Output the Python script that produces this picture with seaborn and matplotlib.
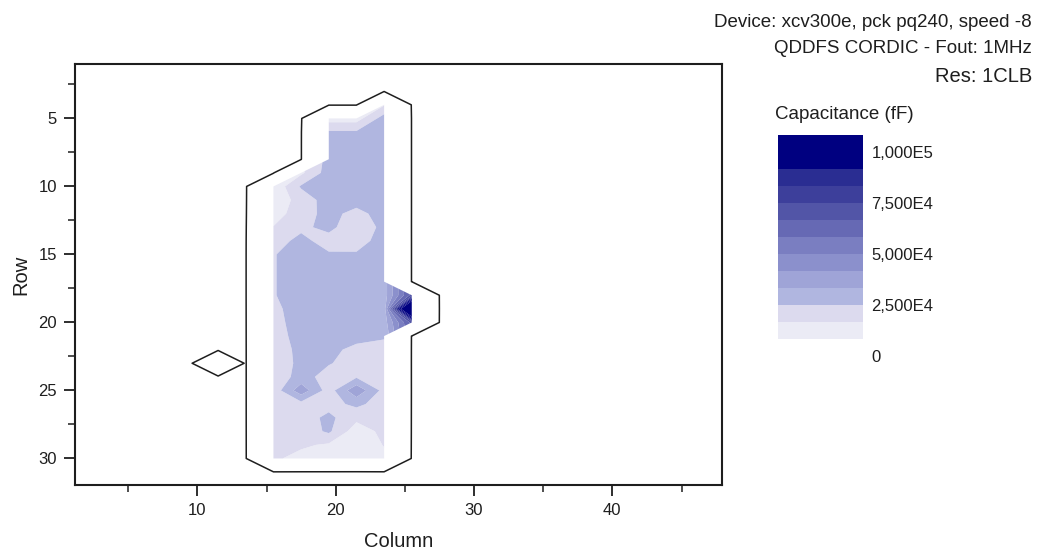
import numpy as np
import matplotlib
matplotlib.use("Agg")
import matplotlib.pyplot as plt
from matplotlib.colors import ListedColormap, BoundaryNorm
from matplotlib.cm import ScalarMappable
from matplotlib.ticker import MultipleLocator
import seaborn as sns

# ---- measured capacitance per CLB column (fF) ----
# each column: x position, first populated row, then values row by row
grid_columns = np.arange(1.5, 48, 2)          # CLB column centres
grid_rows = np.arange(1, 33)                  # CLB rows

col_positions = [11.5, 15.5, 17.5, 19.5, 21.5, 23.5, 25.5]
col_first_row = [23, 10, 9, 5, 5, 4, 18]

cap_c11 = [5000]
cap_c15 = [10000, 11000, 13000, 17000, 22000, 24500, 24500, 24500, 24500, 23000,
           22000, 21000, 20000, 20000, 20000, 20000, 20000, 19500, 19000, 18500, 18000]
cap_c17 = [15000, 26000, 20000, 21000, 23500, 27000, 29000, 29000, 29000, 29000, 29000,
           29000, 28500, 27500, 27000, 28000, 38500, 22000, 21000, 20000, 18000, 14000]
cap_c19 = [13000, 26000, 29000, 28000, 29000, 29000, 29000, 28000, 27000, 22000, 25800,
           29000, 29000, 29000, 29000, 29000, 28000, 26500, 25500, 22000, 21000, 22000,
           27000, 26500, 15500, 13000]
cap_c21 = [13000, 26000, 29000, 29000, 29000, 29000, 29000, 22000, 20000, 21000, 26000,
           29000, 29000, 29000, 29000, 29000, 27000, 23500, 22000, 24000, 39500, 27000,
           19000, 12000, 12000, 12000]
cap_c23 = [16000, 29000, 29000, 29000, 29000, 29000, 29000, 29000, 29000, 27000, 29000,
           29000, 29000, 29000, 29000, 28000, 29000, 26000, 22000, 21000, 21000, 22000,
           21000, 20000, 19000, 17000, 15000]
cap_c25 = [70000, 160000, 70000]

# colour scale
level_step = 1e5 / 12
band_colors = ["#ffffff", "#ebebf5", "#dcdaee", "#b0b6e0", "#9fa4d7", "#8b90cc",
               "#7a7ec1", "#6669b4", "#5255a7", "#3d3f9b", "#2a2d92", "#000080", "#000080"]
cbar_ticks = [0, 25000, 50000, 75000, 100000]
cbar_ticklabels = ["0", "2,500E4", "5,000E4", "7,500E4", "1,000E5"]

header_lines = ["Device: xcv300e, pck pq240, speed -8", "QDDFS CORDIC - Fout: 1MHz"]
resolution_text = "Res: 1CLB"

# ---- assemble the grid ----
column_values = [cap_c11, cap_c15, cap_c17, cap_c19, cap_c21, cap_c23, cap_c25]
Z = np.zeros((len(grid_rows), len(grid_columns)))
for xpos, r0, vals in zip(col_positions, col_first_row, column_values):
    ci = int(np.argmin(np.abs(grid_columns - xpos)))
    for k, v in enumerate(vals):
        Z[r0 - 1 + k, ci] = v
X, Y = np.meshgrid(grid_columns, grid_rows)
Z_fill = np.ma.masked_where(Z <= 0, Z)

# ---- style ----
sns.set_style("ticks")
plt.rcParams["font.family"] = ["Liberation Sans", "DejaVu Sans"]
ink = "#1e1e1e"

fig = plt.figure(figsize=(10.41, 5.5), dpi=100)
ax = fig.add_axes([0.072, 0.1182, 0.6216, 0.7654])

bounds = np.arange(len(band_colors) + 1) * level_step
cmap = ListedColormap(band_colors)
cmap.set_over("#000080")
norm = BoundaryNorm(bounds, cmap.N)

ax.contourf(X, Y, Z_fill, levels=bounds, cmap=cmap, norm=norm, extend="max",
            antialiased=True)
ax.contour(X, Y, Z, levels=[300], colors=ink, linewidths=1.1)

ax.set_xlim(1.15, 47.93)
ax.set_ylim(31.95, 1.0)
ax.xaxis.set_major_locator(MultipleLocator(10))
ax.xaxis.set_minor_locator(MultipleLocator(5))
ax.yaxis.set_major_locator(MultipleLocator(5))
ax.yaxis.set_minor_locator(MultipleLocator(2.5))
ax.tick_params(which="major", direction="out", length=8, width=1.3, color=ink,
               labelsize=12, labelcolor=ink, pad=5)
ax.tick_params(which="minor", direction="out", length=5, width=1.1, color=ink)
for s in ax.spines.values():
    s.set_linewidth(1.5)
    s.set_color(ink)
    s.set_visible(True)
ax.set_xlabel("Column", fontsize=14.5, color=ink, labelpad=10)
ax.set_ylabel("Row", fontsize=14.5, color=ink, labelpad=6)

# ---- colour bar ----
cax = fig.add_axes([0.7474, 0.3527, 0.0817, 0.4018])
sm = ScalarMappable(norm=norm, cmap=cmap)
cb = fig.colorbar(sm, cax=cax, ticks=cbar_ticks)
cb.outline.set_visible(False)
cb.ax.minorticks_off()
cb.ax.set_yticklabels(cbar_ticklabels)
cb.ax.tick_params(which="both", length=0, labelsize=12, labelcolor=ink, pad=6)
fig.text(0.7445, 0.791, "Capacitance (fF)", fontsize=13.5, color=ink, va="center", ha="left")

# ---- header ----
fig.text(0.9914, 0.9515, header_lines[0], fontsize=13.5, color=ink, ha="right", va="baseline")
fig.text(0.9914, 0.903, header_lines[1], fontsize=13.5, color=ink, ha="right", va="baseline")
fig.text(0.9914, 0.8515, resolution_text, fontsize=14.5, color=ink, ha="right", va="baseline")

fig.savefig("out.png", dpi=100)
